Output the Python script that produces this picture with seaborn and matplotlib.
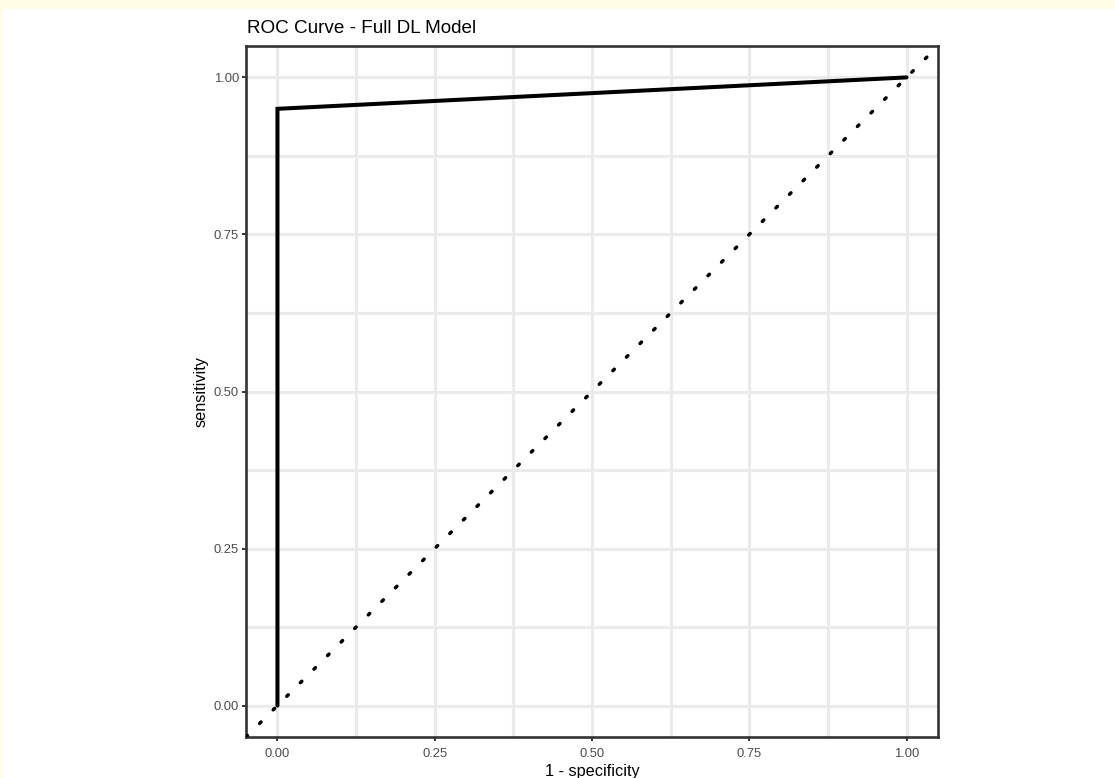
import matplotlib
matplotlib.use("Agg")
import matplotlib.pyplot as plt
from matplotlib.ticker import FixedLocator
import pandas as pd
import seaborn as sns

# ROC points
fpr = [0.0, 0.0, 1.0]
tpr = [0.0, 0.95, 1.0]
tick_vals = [0.0, 0.25, 0.5, 0.75, 1.0]
minor_vals = [0.125, 0.375, 0.625, 0.875]
tick_labels = ["0.00", "0.25", "0.50", "0.75", "1.00"]

roc = pd.DataFrame({"fpr": fpr, "tpr": tpr})

sns.set_theme(style="white")
plt.rcParams["font.family"] = ["Liberation Sans", "DejaVu Sans"]

fig = plt.figure(figsize=(11.15, 7.78), dpi=100, facecolor="#FFFDE3")
# white page inset a little, like the screenshot
fig.patches.append(plt.Rectangle((3 / 1115, 0), 1, 1 - 9 / 778,
                                 transform=fig.transFigure, color="white", zorder=-10))

ax = fig.add_axes([246 / 1115, 41 / 778, 692 / 1115, 691 / 778])
ax.set_facecolor("white")

# diagonal reference line (dotted, round dots like R's lty 3)
ax.axline((0, 0), (1, 1), color="black", lw=2.5, linestyle=(0, (0.6, 4.93)),
          dash_capstyle="round", zorder=3)

sns.lineplot(data=roc, x="fpr", y="tpr", sort=False, estimator=None,
             color="black", lw=2.9, ax=ax, zorder=4)
ax.lines[-1].set_solid_joinstyle("miter")

ax.set_xlim(-0.05, 1.05)
ax.set_ylim(-0.05, 1.05)

ax.xaxis.set_major_locator(FixedLocator(tick_vals))
ax.yaxis.set_major_locator(FixedLocator(tick_vals))
ax.xaxis.set_minor_locator(FixedLocator(minor_vals))
ax.yaxis.set_minor_locator(FixedLocator(minor_vals))
ax.set_xticklabels(tick_labels)
ax.set_yticklabels(tick_labels)

ax.grid(which="both", color="#EBEBEB", lw=2.3)
ax.set_axisbelow(True)

ax.tick_params(which="major", length=3, width=1.4, color="#333333",
               labelsize=9.4, labelcolor="#4D4D4D", pad=2,
               bottom=True, left=True)
ax.tick_params(axis="x", which="major", pad=5)
ax.tick_params(which="minor", length=0)

for s in ax.spines.values():
    s.set_color("#333333")
    s.set_linewidth(1.9)
    s.set_visible(True)

ax.set_xlabel("1 - specificity", fontsize=11.7, color="black", labelpad=2.5)
ax.set_ylabel("sensitivity", fontsize=11.7, color="black", labelpad=4)

fig.text(247 / 1115, 1 - 33 / 778, "ROC Curve - Full DL Model",
         fontsize=13.6, color="black", ha="left", va="baseline")

fig.savefig("out.png", dpi=100, facecolor=fig.get_facecolor())
